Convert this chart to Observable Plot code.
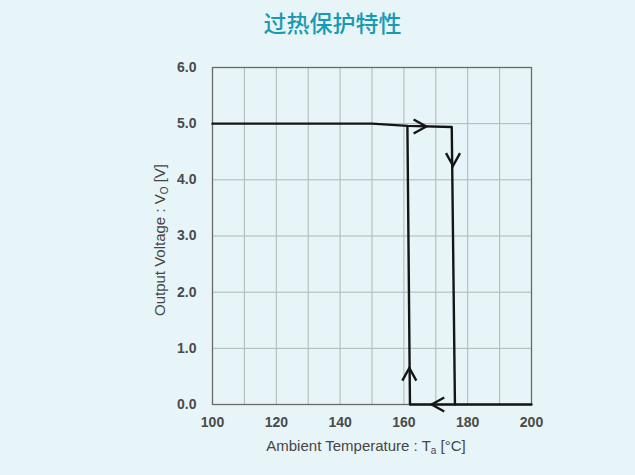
<!DOCTYPE html>
<html>
<head>
<meta charset="utf-8">
<script src="https://cdn.jsdelivr.net/npm/d3@7"></script>
<script src="https://cdn.jsdelivr.net/npm/@observablehq/plot@0.6"></script>
<style>
  html, body { margin: 0; padding: 0; background: #e8f5f8; overflow: hidden; }
  #title { height: 44px; line-height: 44px; text-align: center; padding-left: 30px; font-family: "Noto Sans CJK SC", sans-serif; font-weight: 500; font-size: 23px; color: #1a9ab2; }
  #chart svg { display: block; }
</style>
</head>
<body>
<div id="title">过热保护特性</div>
<div id="chart"></div>
<script>
// Data
const heatTemp = [100, 150, 161.1, 175.0, 176.0, 200];
const heatVolt = [5.0, 5.0, 4.96, 4.94, 0.0, 0.0];
const coolTemp = [176.0, 161.9, 161.1];
const coolVolt = [0.0, 0.0, 4.96];
const arrowTemp = [167.0, 175.4, 168.7, 161.7];
const arrowVolt = [4.95, 4.25, 0.0, 0.65];
const arrowAngle = [0, 90, 180, -90];
const xTicks = [100, 120, 140, 160, 180, 200];
const xGrid = [100, 110, 120, 130, 140, 150, 160, 170, 180, 190, 200];
const yTicks = [0, 1, 2, 3, 4, 5, 6];
const xLabel = ["Ambient Temperature : T", "a", " [°C]"];
const yLabel = ["Output Voltage : V", "O", " [V]"];

const heat = heatTemp.map((t, i) => ({t, v: heatVolt[i]}));
const cool = coolTemp.map((t, i) => ({t, v: coolVolt[i]}));
const arrows = arrowTemp.map((t, i) => ({t, v: arrowVolt[i], a: arrowAngle[i]}));

const chevron = {
  draw(context, size) {
    const r = Math.sqrt(size / Math.PI);
    context.moveTo(-1.8 * r, -r);
    context.lineTo(0, 0);
    context.lineTo(-1.8 * r, r);
  }
};

const plot = Plot.plot({
  width: 635,
  height: 431,
  marginLeft: 212,
  marginRight: 104,
  marginTop: 23,
  marginBottom: 71,
  style: { background: "transparent", fontFamily: "'Liberation Sans', Arial, sans-serif", fontSize: "14px", color: "#4a4a4a" },
  x: { domain: [100, 200] },
  y: { domain: [0, 6] },
  marks: [
    Plot.gridX(xGrid, { stroke: "#aeb6b8", strokeOpacity: 1, strokeWidth: 1 }),
    Plot.gridY(yTicks, { stroke: "#aeb6b8", strokeOpacity: 1, strokeWidth: 1 }),
    Plot.frame({ stroke: "#6a6a6a", strokeWidth: 1.3 }),
    Plot.axisX(xTicks, { tickSize: 0, tickPadding: 13, label: null, tickFormat: d => String(d), fontWeight: "bold" }),
    Plot.axisY(yTicks, { tickSize: 0, tickPadding: 16, label: null, tickFormat: d3.format(".1f"), fontWeight: "bold" }),
    Plot.line(heat, { x: "t", y: "v", stroke: "#151515", strokeWidth: 2.4 }),
    Plot.line(cool, { x: "t", y: "v", stroke: "#151515", strokeWidth: 2.4 }),
    Plot.dot(arrows, { x: "t", y: "v", rotate: "a", symbol: chevron, r: 7, fill: "none", stroke: "#151515", strokeWidth: 2.4 })
  ]
});

document.getElementById("chart").appendChild(plot);

const svg = d3.select(plot);
function addLabel(parts, x, y, rotate) {
  const t = svg.append("text")
    .attr("transform", `translate(${x},${y})` + (rotate ? " rotate(-90)" : ""))
    .attr("text-anchor", "middle")
    .attr("font-family", "'Liberation Sans', Arial, sans-serif")
    .attr("font-size", 15)
    .attr("fill", "#454545");
  t.append("tspan").text(parts[0]);
  t.append("tspan").attr("font-size", 10).attr("dy", 3).text(parts[1]);
  t.append("tspan").attr("dy", -3).text(parts[2]);
}
addLabel(xLabel, 366, 407, false);
addLabel(yLabel, 165, 196, true);
</script>
</body>
</html>
